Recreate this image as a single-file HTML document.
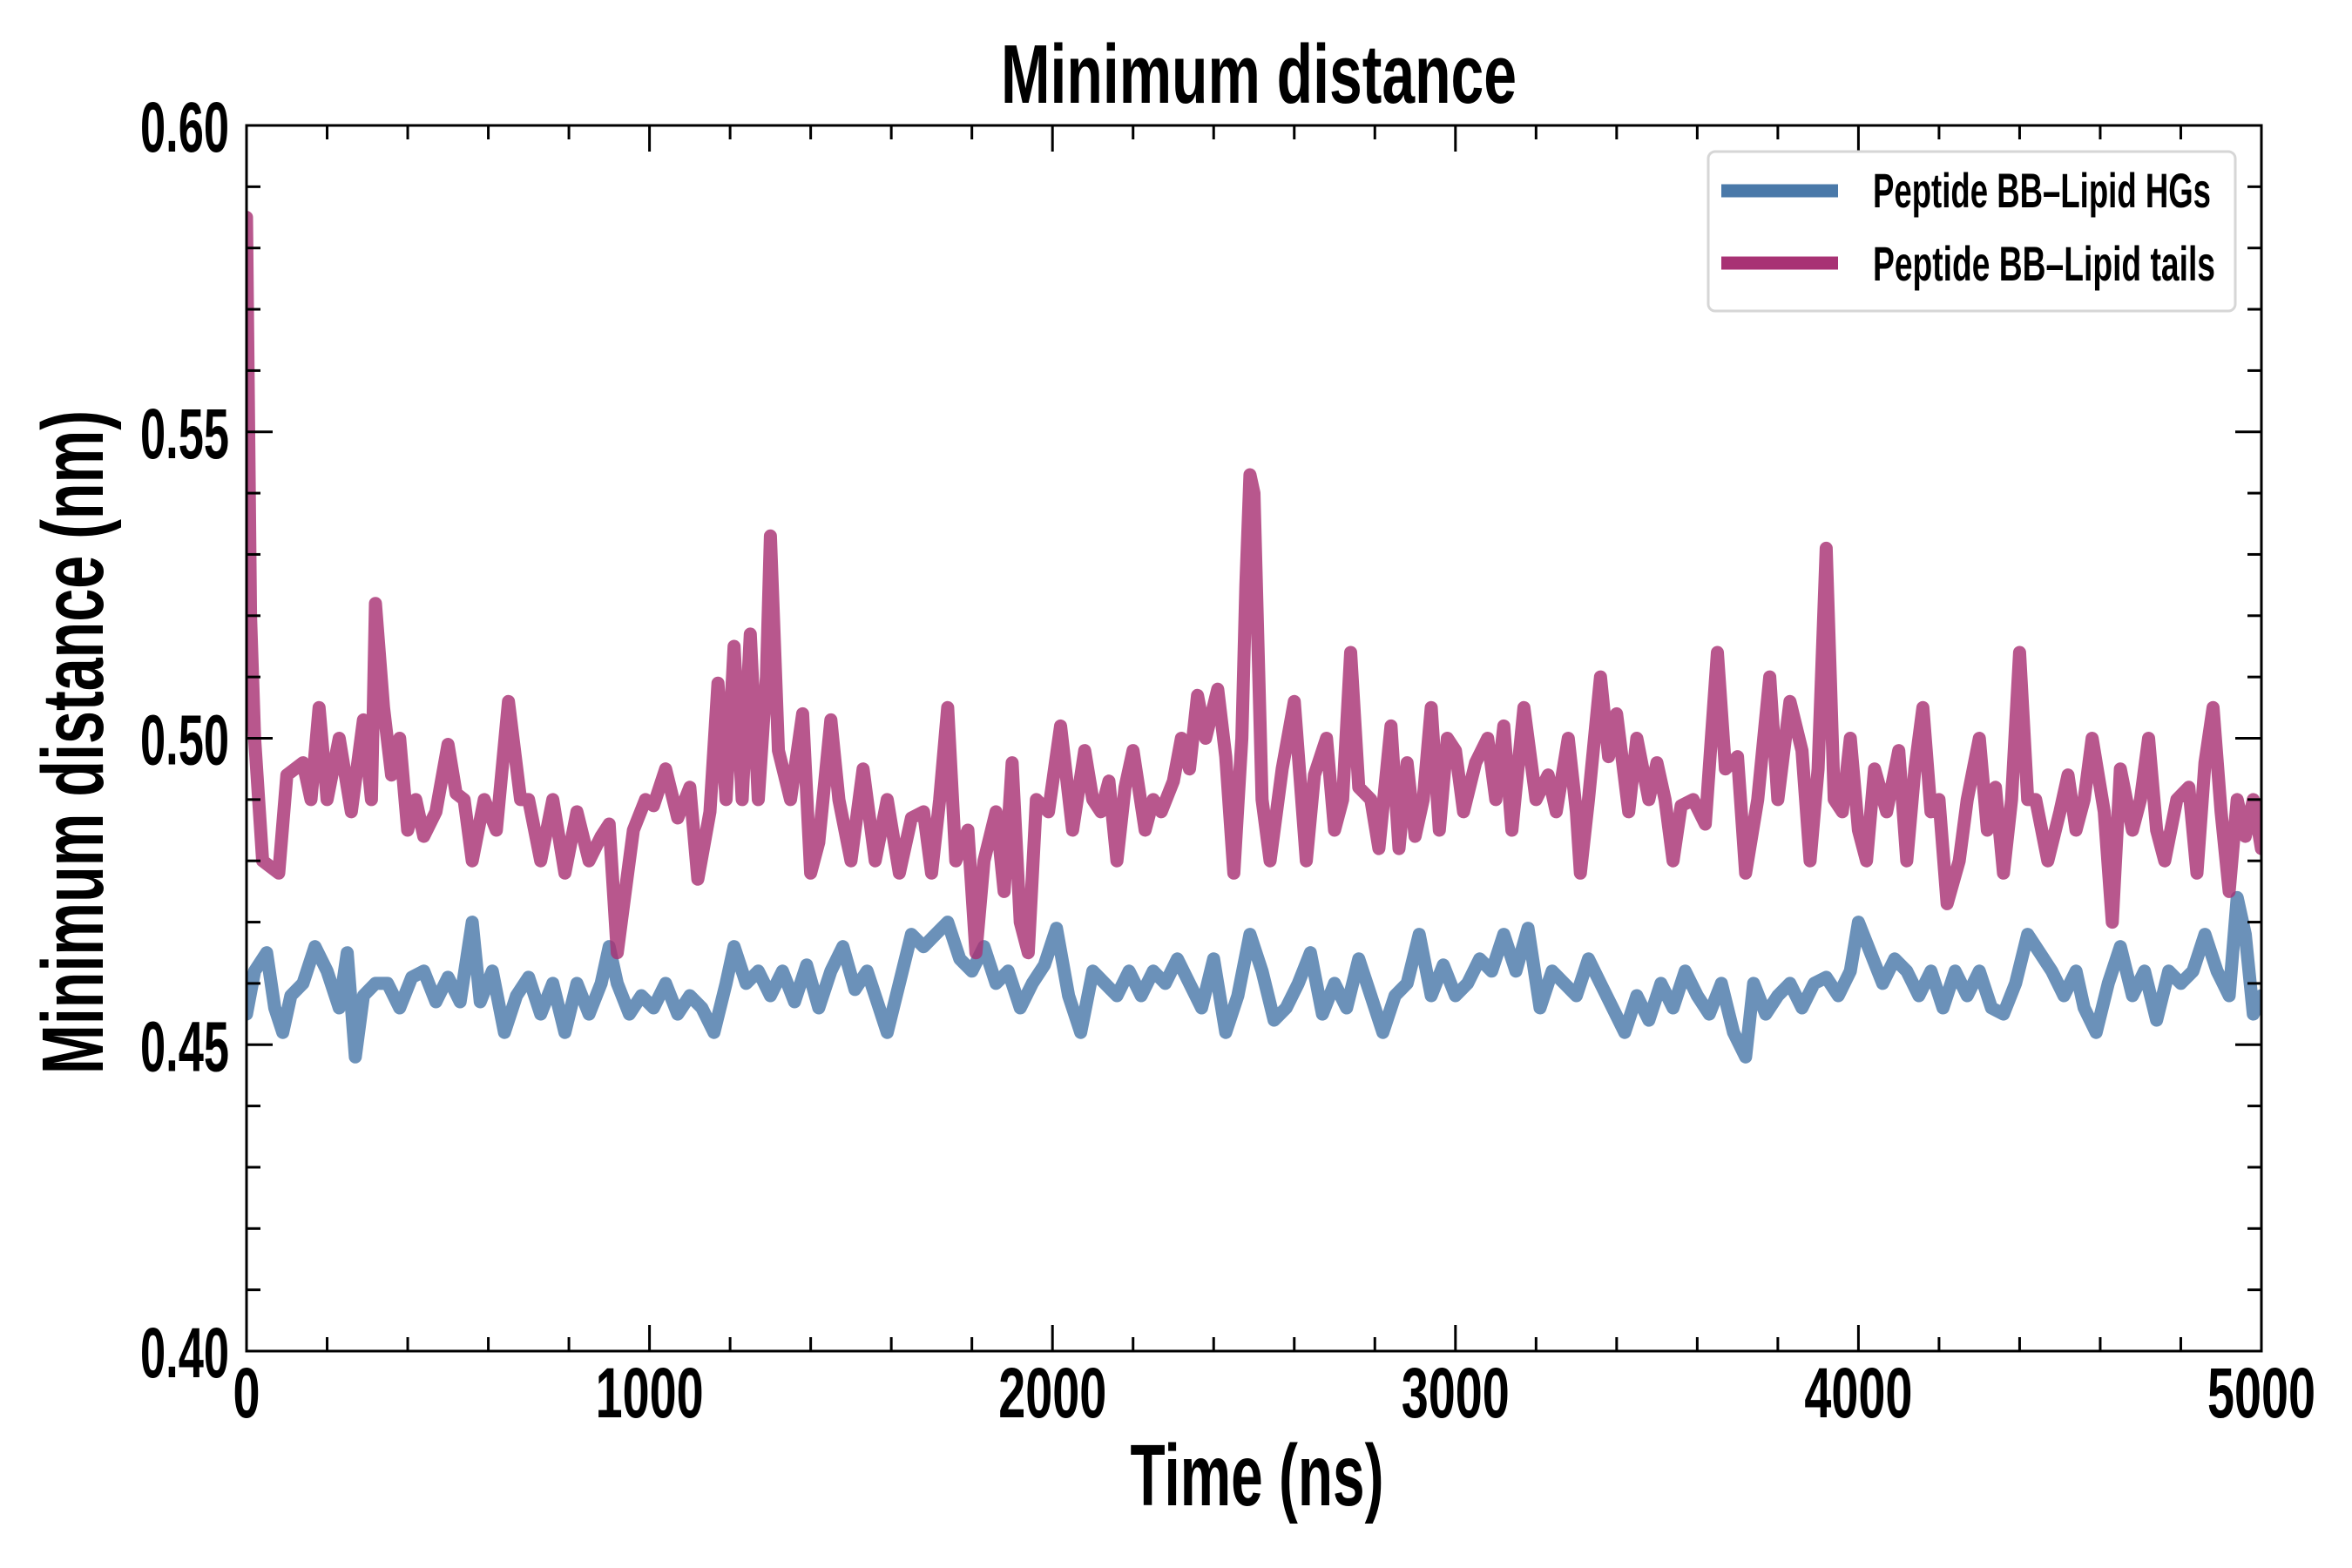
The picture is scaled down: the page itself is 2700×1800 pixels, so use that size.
<!DOCTYPE html>
<html><head><meta charset="utf-8"><style>
html,body{margin:0;padding:0;background:#fff}
svg{display:block}
text{font-family:"Liberation Sans Narrow","Liberation Sans",sans-serif;font-weight:bold;fill:#000}
</style></head><body>
<svg id="chart" width="2700" height="1800" viewBox="0 0 2700 1800" xmlns="http://www.w3.org/2000/svg">
<rect x="0" y="0" width="2700" height="1800" fill="#fff"/>
<g id="series"></g>
<g id="axes"></g>
<text x="1445" y="118" font-size="96" text-anchor="middle" textLength="592" lengthAdjust="spacingAndGlyphs">Minimum distance</text>
<text x="1443" y="1728" font-size="100" text-anchor="middle" textLength="291" lengthAdjust="spacingAndGlyphs">Time (ns)</text>
<text transform="translate(118,852) rotate(-90)" x="0" y="0" font-size="100" text-anchor="middle" textLength="762" lengthAdjust="spacingAndGlyphs">Minimum distance (nm)</text>
<g>
<rect x="1961" y="174" width="605" height="183" rx="8" fill="#fff" stroke="#d6d6d6" stroke-width="3"/>
<g>
<line x1="1976" y1="219" x2="2110" y2="219" stroke="#4a79a9" stroke-width="15"/>
<text x="2150" y="238" font-size="56" textLength="388" lengthAdjust="spacingAndGlyphs">Peptide BB–Lipid HGs</text>
</g>
<g>
<line x1="1976" y1="302" x2="2110" y2="302" stroke="#a83274" stroke-width="15"/>
<text x="2150" y="322" font-size="56" textLength="393" lengthAdjust="spacingAndGlyphs">Peptide BB–Lipid tails</text>
</g>
</g>
</svg>
<script>
const tailsTime=[0,10,20,40,80,100,140,160,180,200,230,260,290,310,320,340,360,380,400,420,440,470,500,520,540,560,590,620,650,680,700,730,760,790,820,850,880,900,920,940,960,990,1010,1040,1070,1100,1120,1150,1170,1190,1210,1230,1250,1270,1290,1300,1320,1350,1380,1400,1420,1450,1470,1500,1530,1560,1590,1620,1650,1680,1700,1720,1740,1760,1790,1810,1830,1860,1880,1900,1920,1940,1960,1990,2020,2050,2080,2100,2120,2140,2160,2180,2200,2230,2250,2270,2300,2320,2340,2360,2380,2410,2430,2450,2470,2480,2490,2500,2520,2540,2570,2600,2630,2650,2680,2700,2720,2740,2760,2790,2810,2840,2860,2880,2900,2920,2940,2960,2980,3000,3020,3050,3080,3100,3120,3140,3170,3200,3230,3250,3280,3300,3310,3330,3360,3380,3400,3430,3450,3480,3500,3520,3540,3560,3590,3620,3650,3670,3700,3720,3750,3780,3800,3830,3860,3880,3900,3920,3940,3960,3980,4000,4020,4040,4070,4100,4120,4140,4160,4180,4200,4220,4250,4270,4300,4320,4340,4360,4380,4400,4420,4440,4470,4500,4520,4540,4560,4580,4610,4630,4650,4680,4700,4720,4740,4760,4790,4820,4840,4860,4880,4900,4920,4940,4960,4980,5000];
const tailsValues=[0.585,0.52,0.50,0.48,0.478,0.494,0.496,0.49,0.505,0.49,0.50,0.488,0.503,0.49,0.522,0.505,0.494,0.50,0.485,0.49,0.484,0.488,0.499,0.491,0.49,0.48,0.49,0.485,0.506,0.49,0.49,0.48,0.49,0.478,0.488,0.48,0.484,0.486,0.465,0.475,0.485,0.49,0.489,0.495,0.487,0.492,0.477,0.488,0.509,0.49,0.515,0.49,0.517,0.49,0.51,0.533,0.498,0.49,0.504,0.478,0.483,0.503,0.49,0.48,0.495,0.48,0.49,0.478,0.487,0.488,0.478,0.49,0.505,0.48,0.485,0.465,0.48,0.488,0.475,0.496,0.47,0.465,0.49,0.488,0.502,0.485,0.498,0.49,0.488,0.493,0.48,0.492,0.498,0.485,0.49,0.488,0.493,0.50,0.495,0.507,0.50,0.508,0.497,0.478,0.50,0.525,0.543,0.54,0.49,0.48,0.495,0.506,0.48,0.494,0.50,0.485,0.49,0.514,0.492,0.49,0.482,0.502,0.482,0.496,0.484,0.49,0.505,0.485,0.50,0.498,0.488,0.496,0.50,0.49,0.502,0.485,0.505,0.49,0.494,0.488,0.50,0.488,0.478,0.49,0.51,0.497,0.504,0.488,0.50,0.49,0.496,0.49,0.48,0.489,0.49,0.486,0.514,0.495,0.497,0.478,0.49,0.51,0.49,0.506,0.498,0.48,0.495,0.531,0.49,0.488,0.50,0.485,0.48,0.495,0.488,0.498,0.48,0.495,0.505,0.488,0.49,0.473,0.48,0.49,0.50,0.485,0.492,0.478,0.49,0.514,0.49,0.49,0.48,0.488,0.494,0.485,0.49,0.50,0.488,0.47,0.495,0.485,0.49,0.50,0.485,0.48,0.49,0.492,0.478,0.496,0.505,0.488,0.475,0.49,0.484,0.49,0.482];
const hgsTime=[0,20,50,70,90,110,140,170,200,230,250,270,290,320,350,380,410,440,470,500,530,560,580,610,640,670,700,730,760,790,820,850,880,900,920,950,980,1010,1040,1070,1100,1130,1160,1190,1210,1240,1270,1300,1330,1360,1390,1420,1450,1480,1510,1540,1570,1590,1620,1650,1680,1710,1740,1770,1800,1830,1860,1890,1920,1950,1980,2010,2040,2070,2100,2130,2160,2190,2220,2250,2280,2310,2340,2370,2400,2430,2460,2490,2520,2550,2580,2610,2640,2670,2700,2730,2760,2790,2820,2850,2880,2910,2940,2970,3000,3030,3060,3090,3120,3150,3180,3210,3240,3270,3300,3330,3360,3390,3420,3450,3480,3510,3540,3570,3600,3630,3660,3690,3720,3740,3770,3800,3830,3860,3890,3920,3950,3980,4000,4030,4060,4090,4120,4150,4180,4210,4240,4270,4300,4330,4360,4390,4420,4450,4480,4510,4540,4560,4590,4620,4650,4680,4710,4740,4770,4800,4830,4860,4890,4920,4940,4960,4980,5000];
const hgsValues=[0.455,0.462,0.465,0.456,0.452,0.458,0.46,0.466,0.462,0.456,0.465,0.448,0.458,0.46,0.46,0.456,0.461,0.462,0.457,0.461,0.457,0.47,0.457,0.462,0.452,0.458,0.461,0.455,0.46,0.452,0.46,0.455,0.46,0.466,0.46,0.455,0.458,0.456,0.46,0.455,0.458,0.456,0.452,0.46,0.466,0.46,0.462,0.458,0.462,0.457,0.463,0.456,0.462,0.466,0.459,0.462,0.456,0.452,0.46,0.468,0.466,0.468,0.47,0.464,0.462,0.466,0.46,0.462,0.456,0.46,0.463,0.469,0.458,0.452,0.462,0.46,0.458,0.462,0.458,0.462,0.46,0.464,0.46,0.456,0.464,0.452,0.458,0.468,0.462,0.454,0.456,0.46,0.465,0.455,0.46,0.456,0.464,0.458,0.452,0.458,0.46,0.468,0.458,0.463,0.458,0.46,0.464,0.462,0.468,0.462,0.469,0.456,0.462,0.46,0.458,0.464,0.46,0.456,0.452,0.458,0.454,0.46,0.456,0.462,0.458,0.455,0.46,0.452,0.448,0.46,0.455,0.458,0.46,0.456,0.46,0.461,0.458,0.462,0.47,0.465,0.46,0.464,0.462,0.458,0.462,0.456,0.462,0.458,0.462,0.456,0.455,0.46,0.468,0.465,0.462,0.458,0.462,0.456,0.452,0.46,0.466,0.458,0.462,0.454,0.462,0.46,0.462,0.468,0.462,0.458,0.474,0.468,0.455,0.458];
const xTickValues=[0,1000,2000,3000,4000,5000];
const xTickLabels=["0","1000","2000","3000","4000","5000"];
const yTickValues=[0.40,0.45,0.50,0.55,0.60];
const yTickLabels=["0.40","0.45","0.50","0.55","0.60"];

const NS="http://www.w3.org/2000/svg";
const L=283,R=2596,T=144,B=1551;
const X0=0,X1=5000,Y0=0.40,Y1=0.60;
function xs(v){return L+(v-X0)/(X1-X0)*(R-L);}
function ys(v){return B-(v-Y0)/(Y1-Y0)*(B-T);}
function mk(tag,attrs,parent){const e=document.createElementNS(NS,tag);for(const k in attrs)e.setAttribute(k,attrs[k]);parent.appendChild(e);return e;}

const sg=document.getElementById('series');
function drawLine(times,vals,color,name){
  const d=times.map((t,i)=>(i?'L':'M')+xs(t).toFixed(1)+' '+ys(vals[i]).toFixed(1)).join(' ');
  const p=mk('path',{d:d,fill:'none',stroke:color,'stroke-width':15,'stroke-linejoin':'round','stroke-linecap':'round','stroke-opacity':0.82},sg);
  
  
}
const clip=mk('clipPath',{id:'pc'},document.getElementById('chart'));
mk('rect',{x:L,y:T,width:R-L,height:B-T},clip);
sg.setAttribute('clip-path','url(#pc)');
drawLine(hgsTime,hgsValues,'#4a79a9','series-lipid-hgs');
drawLine(tailsTime,tailsValues,'#a83274','series-lipid-tails');

const ag=document.getElementById('axes');
const frame=mk('rect',{x:L,y:T,width:R-L,height:B-T,fill:'none',stroke:'#000','stroke-width':3},ag);


for(let v=0;v<=5000;v+=200){
  const major=v%1000===0, len=major?30:16, x=xs(v);
  mk('line',{x1:x,y1:B,x2:x,y2:B-len,stroke:'#000','stroke-width':3},ag);
  mk('line',{x1:x,y1:T,x2:x,y2:T+len,stroke:'#000','stroke-width':3},ag);
}
for(let i=0;i<=20;i++){
  const v=0.40+i*0.01, major=i%5===0, len=major?30:16, y=ys(v);
  mk('line',{x1:L,y1:y,x2:L+len,y2:y,stroke:'#000','stroke-width':3},ag);
  mk('line',{x1:R,y1:y,x2:R-len,y2:y,stroke:'#000','stroke-width':3},ag);
}
xTickValues.forEach((v,i)=>{
  const s=xTickLabels[i];
  const t=mk('text',{x:xs(v),y:1627,'font-size':82,'text-anchor':'middle',textLength:s.length*31,lengthAdjust:'spacingAndGlyphs'},ag);
  t.textContent=s;
  
  
});
yTickValues.forEach((v,i)=>{
  const s=yTickLabels[i];
  const t=mk('text',{x:263,y:ys(v)+30,'font-size':82,'text-anchor':'end',textLength:102,lengthAdjust:'spacingAndGlyphs'},ag);
  t.textContent=s;
  
  
});
</script>
</body></html>
